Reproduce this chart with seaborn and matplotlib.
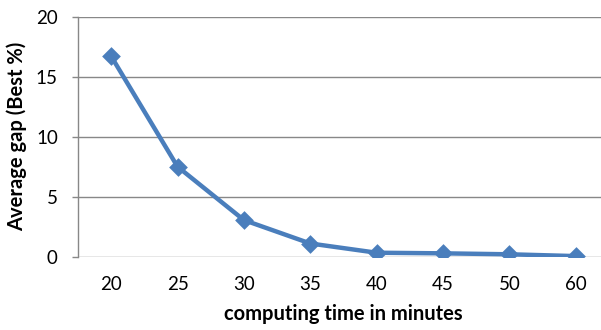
import matplotlib
matplotlib.use("Agg")
import matplotlib.pyplot as plt
import seaborn as sns
import pandas as pd

times = ["20", "25", "30", "35", "40", "45", "50", "60"]
gaps = [16.7, 7.5, 3.05, 1.1, 0.33, 0.28, 0.2, 0.05]
y_ticks = [0, 5, 10, 15, 20]
x_label = "computing time in minutes"
y_label = "Average gap (Best %)"

sns.set_theme(style="white")
plt.rcParams["font.family"] = ["Lato", "DejaVu Sans"]

df = pd.DataFrame({"time": times, "gap": gaps})

fig = plt.figure(figsize=(6.01, 3.30), dpi=100)
ax = fig.add_axes([78 / 601, 73.3 / 330, 531 / 601, 240 / 330])

line_color = "#4A7EBC"
sns.pointplot(data=df, x="time", y="gap", color=line_color, marker="D",
              markersize=7.3, linewidth=3.2, ax=ax, errorbar=None)

ax.set_xlim(-0.5, len(times) - 0.5)
ax.set_ylim(0, 20)
ax.set_yticks(y_ticks)
ax.set_yticklabels([str(v) for v in y_ticks])

grid_color = "#888888"
ax.yaxis.grid(True, color=grid_color, linewidth=1.0)
ax.xaxis.grid(False)
ax.set_axisbelow(True)
for side in ["top", "right", "bottom"]:
    ax.spines[side].set_visible(False)
ax.spines["left"].set_color(grid_color)
ax.spines["left"].set_linewidth(1.0)

ax.tick_params(axis="y", which="both", left=True, length=4.5, width=1.0,
               color=grid_color, pad=10, labelsize=13.5, labelcolor="#000000")
ax.tick_params(axis="x", which="both", bottom=False, length=0, pad=14,
               labelsize=13.5, labelcolor="#000000")

ax.set_xlabel(x_label, fontsize=14.5, fontweight="bold", color="#000000")
ax.set_ylabel(y_label, fontsize=14.5, fontweight="bold", color="#000000")
ax.xaxis.set_label_coords(0.5, (256.7 - 314) / 240)
ax.xaxis.label.set_va("center")
ax.yaxis.set_label_coords((16.7 - 78) / 531, 0.5)
ax.yaxis.label.set_va("center")

fig.savefig("out.png", dpi=100)
